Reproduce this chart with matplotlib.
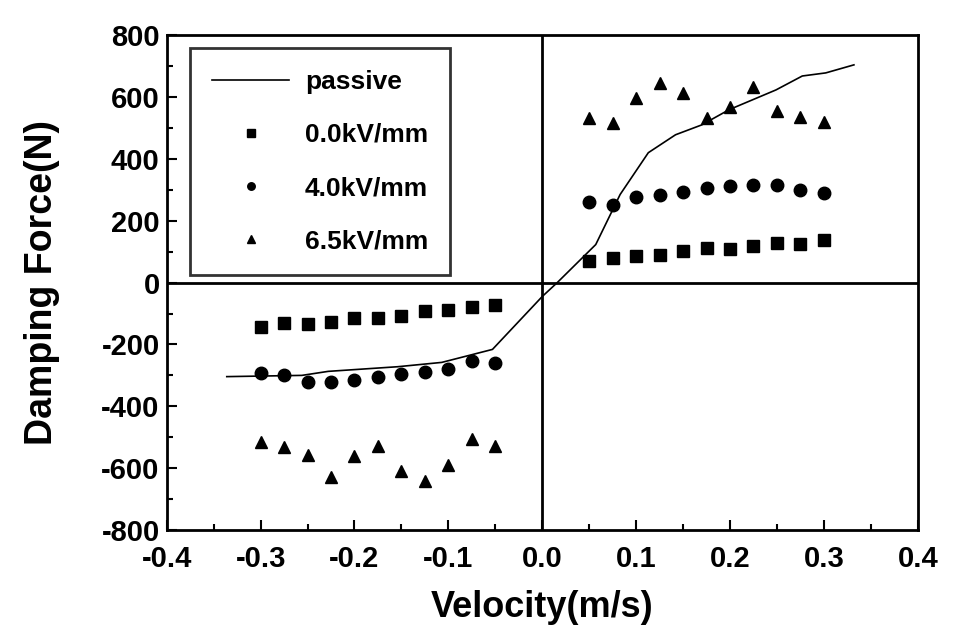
import numpy as np
import matplotlib.pyplot as plt
from matplotlib.ticker import MultipleLocator

plt.rcParams['font.family'] = ['Liberation Sans', 'DejaVu Sans']
plt.rcParams['font.weight'] = 'bold'
plt.rcParams['axes.unicode_minus'] = False

# velocity points (m/s)
v_neg = [-0.3, -0.275, -0.25, -0.225, -0.2, -0.175, -0.15, -0.125, -0.1, -0.075, -0.05]
v_pos = [0.05, 0.075, 0.1, 0.125, 0.15, 0.175, 0.2, 0.225, 0.25, 0.275, 0.3]

# damping force (N)
f00_neg = [-142, -132, -135, -126, -116, -113, -107, -91, -89, -78, -71]
f00_pos = [71, 78, 87, 90, 103, 113, 110, 119, 129, 126, 139]
f40_neg = [-291, -298, -320, -320, -316, -304, -294, -288, -280, -255, -261]
f40_pos = [262, 252, 278, 284, 294, 307, 313, 317, 317, 300, 291]
f65_neg = [-514, -530, -556, -630, -562, -527, -608, -643, -591, -507, -527]
f65_pos = [533, 517, 598, 646, 614, 533, 568, 633, 556, 536, 520]

# passive curve
v_passive = [-0.336, -0.256, -0.228, -0.154, -0.107, -0.053, 0.0, 0.016, 0.057,
             0.083, 0.113, 0.142, 0.17, 0.199, 0.249, 0.277, 0.302, 0.332]
f_passive = [-304, -300, -287, -272, -258, -216, -45, 0, 123,
             285, 420, 478, 510, 559, 623, 668, 678, 704]

fig = plt.figure(figsize=(9.58, 6.28), dpi=100)
ax = fig.add_axes([0.174, 0.156, 0.784, 0.788])

ax.axhline(0, color='black', lw=2)
ax.axvline(0, color='black', lw=2)

ax.plot(v_passive, f_passive, color='black', lw=1.2, label='passive')
ax.plot(v_neg + v_pos, f00_neg + f00_pos, 's', color='black', ms=9, ls='none', label='0.0kV/mm')
ax.plot(v_neg + v_pos, f40_neg + f40_pos, 'o', color='black', ms=9, ls='none', label='4.0kV/mm')
ax.plot(v_neg + v_pos, f65_neg + f65_pos, '^', color='black', ms=9, ls='none', label='6.5kV/mm')

ax.set_xlim(-0.4, 0.4)
ax.set_ylim(-800, 800)
ax.xaxis.set_major_locator(MultipleLocator(0.1))
ax.xaxis.set_minor_locator(MultipleLocator(0.05))
ax.yaxis.set_major_locator(MultipleLocator(200))
ax.yaxis.set_minor_locator(MultipleLocator(100))
ax.xaxis.set_major_formatter(plt.FuncFormatter(lambda x, p: f"{x:.1f}"))
ax.tick_params(which='both', direction='in', top=False, right=False, width=1.5)
ax.tick_params(which='major', length=7, labelsize=21)
ax.tick_params(which='minor', length=4)
ax.tick_params(axis='x', which='major', pad=11)
ax.tick_params(axis='y', which='major', pad=5)
for s in ax.spines.values():
    s.set_linewidth(2)

ax.set_xlabel('Velocity(m/s)', fontsize=26, fontweight='bold', labelpad=12)
ax.set_ylabel('Damping Force(N)', fontsize=27, fontweight='bold', labelpad=30)

leg = ax.legend(loc='upper left', bbox_to_anchor=(0.031, 0.975), borderaxespad=0,
                fontsize=19, frameon=True, fancybox=False, edgecolor='black',
                markerscale=0.6, handlelength=2.9, handletextpad=0.6,
                labelspacing=1.1, borderpad=0.85)
leg.get_frame().set_linewidth(2)
for t in leg.get_texts():
    t.set_fontweight('bold')

fig.savefig('out.png', dpi=100)
